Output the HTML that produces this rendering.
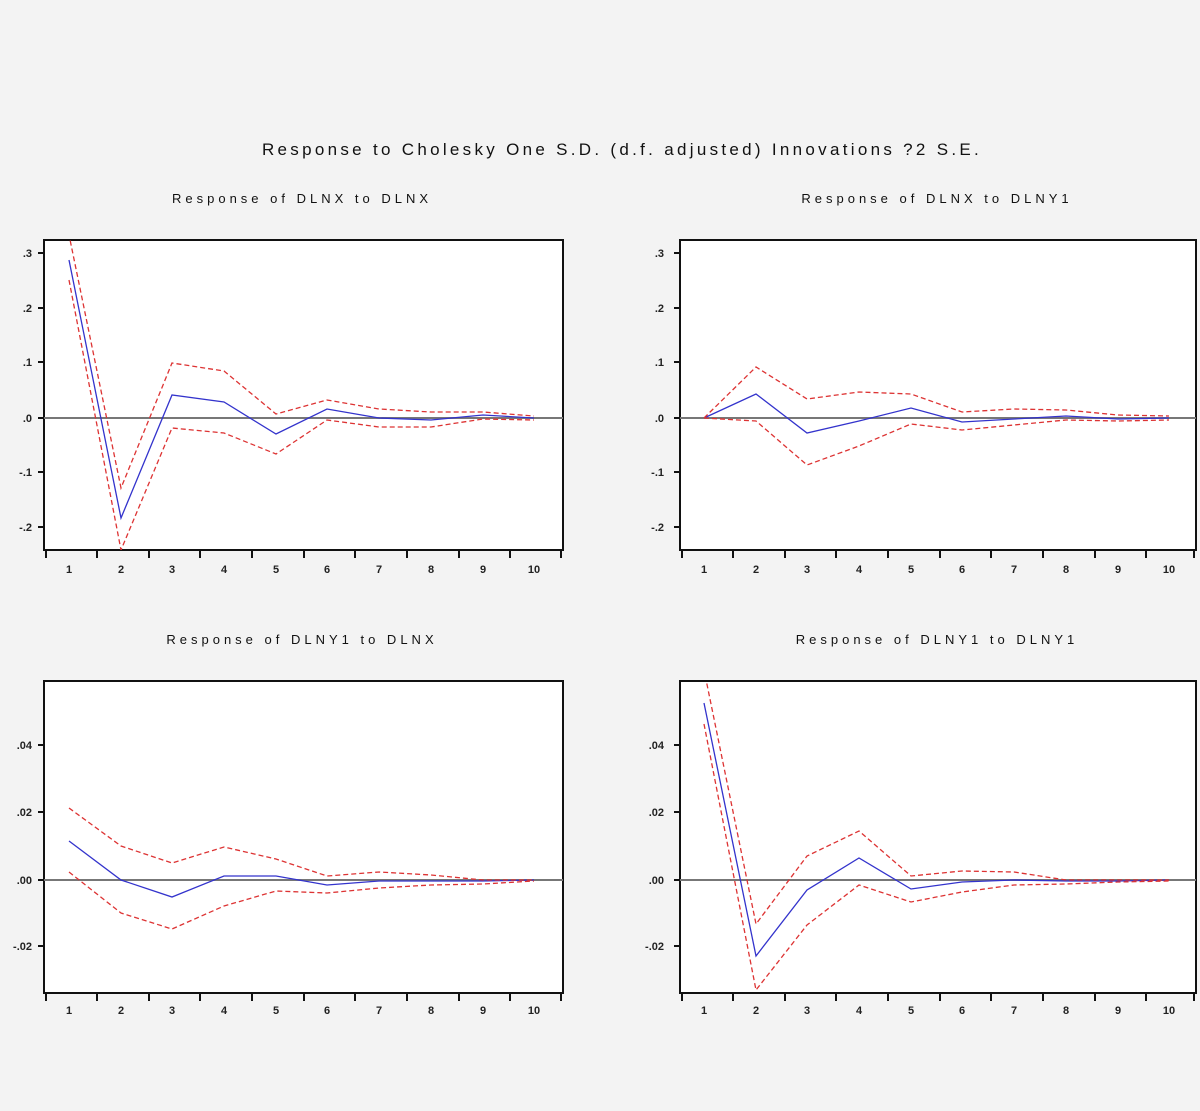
<!DOCTYPE html>
<html><head><style>
html,body{margin:0;padding:0;background:#f3f3f3;}
svg{display:block;font-family:"Liberation Sans",sans-serif;}
</style></head><body>
<svg width="1200" height="1111" viewBox="0 0 1200 1111">
<rect width="1200" height="1111" fill="#f3f3f3"/>
<text x="622" y="155" text-anchor="middle" font-size="17" letter-spacing="3.3" fill="#111">Response to Cholesky One S.D. (d.f. adjusted) Innovations ?2 S.E.</text>
<defs>
<clipPath id="c1"><rect x="44" y="240" width="519" height="310"/></clipPath>
<clipPath id="c2"><rect x="680" y="240" width="516" height="310"/></clipPath>
<clipPath id="c3"><rect x="44" y="681" width="519" height="312"/></clipPath>
<clipPath id="c4"><rect x="680" y="681" width="516" height="312"/></clipPath>
</defs>
<g font-size="13" letter-spacing="4" fill="#111" text-anchor="middle">
<text x="302" y="203">Response of DLNX to DLNX</text>
<text x="937" y="203">Response of DLNX to DLNY1</text>
<text x="302" y="644">Response of DLNY1 to DLNX</text>
<text x="937" y="644">Response of DLNY1 to DLNY1</text>
</g>
<g fill="#fff" stroke="#111" stroke-width="2">
<rect x="44" y="240" width="519" height="310"/>
<rect x="680" y="240" width="516" height="310"/>
<rect x="44" y="681" width="519" height="312"/>
<rect x="680" y="681" width="516" height="312"/>
</g>
<g stroke="#777" stroke-width="2">
<line x1="44" y1="418" x2="563" y2="418"/>
<line x1="680" y1="418" x2="1196" y2="418"/>
<line x1="44" y1="880" x2="563" y2="880"/>
<line x1="680" y1="880" x2="1196" y2="880"/>
</g>
<g stroke="#111" stroke-width="2">
<path d="M46 550v8M97 550v8M149 550v8M200 550v8M252 550v8M304 550v8M355 550v8M407 550v8M459 550v8M510 550v8M561 550v8"/>
<path d="M682 550v8M733 550v8M785 550v8M836 550v8M888 550v8M940 550v8M991 550v8M1043 550v8M1095 550v8M1146 550v8M1194 550v8"/>
<path d="M46 993v8M97 993v8M149 993v8M200 993v8M252 993v8M304 993v8M355 993v8M407 993v8M459 993v8M510 993v8M561 993v8"/>
<path d="M682 993v8M733 993v8M785 993v8M836 993v8M888 993v8M940 993v8M991 993v8M1043 993v8M1095 993v8M1146 993v8M1194 993v8"/>
<path d="M38 253h6M38 308h6M38 362h6M38 418h6M38 472h6M38 527h6"/>
<path d="M674 253h6M674 308h6M674 362h6M674 418h6M674 472h6M674 527h6"/>
<path d="M38 745h6M38 812h6M38 880h6M38 946h6"/>
<path d="M674 745h6M674 812h6M674 880h6M674 946h6"/>
</g>
<g font-size="11" fill="#222" text-anchor="middle" font-weight="bold">
<text x="69" y="573">1</text><text x="121" y="573">2</text><text x="172" y="573">3</text><text x="224" y="573">4</text><text x="276" y="573">5</text><text x="327" y="573">6</text><text x="379" y="573">7</text><text x="431" y="573">8</text><text x="483" y="573">9</text><text x="534" y="573">10</text>
<text x="704" y="573">1</text><text x="756" y="573">2</text><text x="807" y="573">3</text><text x="859" y="573">4</text><text x="911" y="573">5</text><text x="962" y="573">6</text><text x="1014" y="573">7</text><text x="1066" y="573">8</text><text x="1118" y="573">9</text><text x="1169" y="573">10</text>
<text x="69" y="1014">1</text><text x="121" y="1014">2</text><text x="172" y="1014">3</text><text x="224" y="1014">4</text><text x="276" y="1014">5</text><text x="327" y="1014">6</text><text x="379" y="1014">7</text><text x="431" y="1014">8</text><text x="483" y="1014">9</text><text x="534" y="1014">10</text>
<text x="704" y="1014">1</text><text x="756" y="1014">2</text><text x="807" y="1014">3</text><text x="859" y="1014">4</text><text x="911" y="1014">5</text><text x="962" y="1014">6</text><text x="1014" y="1014">7</text><text x="1066" y="1014">8</text><text x="1118" y="1014">9</text><text x="1169" y="1014">10</text>
</g>
<g font-size="11" fill="#222" text-anchor="end" font-weight="bold">
<text x="32" y="257">.3</text><text x="32" y="312">.2</text><text x="32" y="366">.1</text><text x="32" y="422">.0</text><text x="32" y="476">-.1</text><text x="32" y="531">-.2</text>
<text x="664" y="257">.3</text><text x="664" y="312">.2</text><text x="664" y="366">.1</text><text x="664" y="422">.0</text><text x="664" y="476">-.1</text><text x="664" y="531">-.2</text>
<text x="32" y="749">.04</text><text x="32" y="816">.02</text><text x="32" y="884">.00</text><text x="32" y="950">-.02</text>
<text x="664" y="749">.04</text><text x="664" y="816">.02</text><text x="664" y="884">.00</text><text x="664" y="950">-.02</text>
</g>
<g fill="none" stroke-width="1.3">
<g clip-path="url(#c1)">
<polyline stroke="#3333cc" points="69,260 121,518 172,395 224,402 276,434 327,409 379,418 431,420 483,415 534,418"/>
<polyline stroke="#dd3333" stroke-dasharray="5,3" points="67,225 121,488 172,363 224,371 276,414 327,400 379,409 431,412 483,412 534,416"/>
<polyline stroke="#dd3333" stroke-dasharray="5,3" points="69,280 121,550 172,428 224,433 276,454 327,420 379,427 431,427 483,419 534,420"/>
</g>
<g clip-path="url(#c2)">
<polyline stroke="#3333cc" points="704,418 756,394 807,433 859,421 911,408 962,422 1014,419 1066,416 1118,419 1169,418"/>
<polyline stroke="#dd3333" stroke-dasharray="5,3" points="704,418 756,367 807,399 859,392 911,394 962,412 1014,409 1066,410 1118,415 1169,416"/>
<polyline stroke="#dd3333" stroke-dasharray="5,3" points="704,418 756,421 807,465 859,446 911,424 962,430 1014,425 1066,420 1118,421 1169,420"/>
</g>
<g clip-path="url(#c3)">
<polyline stroke="#3333cc" points="69,841 121,880 172,897 224,876 276,876 327,885 379,881 431,881 483,881 534,880"/>
<polyline stroke="#dd3333" stroke-dasharray="5,3" points="69,808 121,846 172,863 224,847 276,859 327,876 379,872 431,875 483,880 534,880"/>
<polyline stroke="#dd3333" stroke-dasharray="5,3" points="69,872 121,913 172,929 224,906 276,891 327,893 379,888 431,885 483,884 534,881"/>
</g>
<g clip-path="url(#c4)">
<polyline stroke="#3333cc" points="704,703 756,956 807,890 859,858 911,889 962,882 1014,880 1066,881 1118,881 1169,880"/>
<polyline stroke="#dd3333" stroke-dasharray="5,3" points="702,660 756,924 807,856 859,831 911,876 962,871 1014,872 1066,880 1118,880 1169,880"/>
<polyline stroke="#dd3333" stroke-dasharray="5,3" points="704,724 756,990 807,925 859,885 911,902 962,892 1014,885 1066,884 1118,882 1169,881"/>
</g>
</g>
</svg>
</body></html>
